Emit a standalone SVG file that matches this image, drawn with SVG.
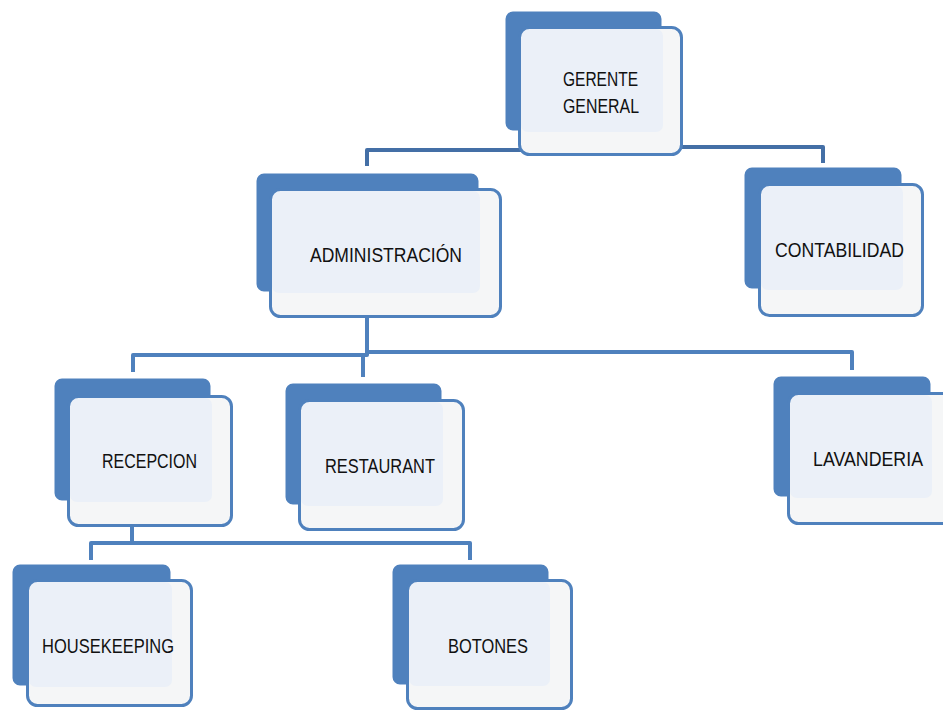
<svg xmlns="http://www.w3.org/2000/svg" width="943" height="711" viewBox="0 0 943 711">
<style>
.back{fill:#4f81bd;stroke:#ffffff;stroke-width:3}
.front{fill:#f5f6f7;stroke:none}
.ov{fill:#ebf0f8}
.edge{fill:none;stroke:#4f81bd;stroke-width:3}
.lbl{font-family:"Liberation Sans Narrow","Liberation Sans",sans-serif;font-size:21px;fill:#111111}
.conn{fill:none;stroke:#4f81bd;stroke-width:4;stroke-linejoin:round}
.conn.top{stroke:#446fa6}
</style>
<rect width="943" height="711" fill="#ffffff"/>
<g id="connectors">
<path class="conn top" d="M367,166 V150 H590"/>
<path class="conn top" d="M600,147 H823 V163"/>
<path class="conn" d="M367,318 V355 H133 V372"/>
<path class="conn" d="M367,355 V352 H852 V370"/>
<path class="conn" d="M363,355 V377"/>
<path class="conn" d="M132,527 V543 H91 V560"/>
<path class="conn" d="M132,543 H470 V560"/>
</g>
<g id="gerente">
<rect class="back" x="504" y="10" width="159" height="122" rx="9"/>
<rect class="front" x="519.5" y="27.5" width="162" height="127" rx="10"/>
<rect class="ov" x="521" y="29" width="142" height="103" rx="7"/>
<rect class="edge" x="519.5" y="27.5" width="162" height="127" rx="10"/>
<text class="lbl" x="563" y="86" textLength="75" lengthAdjust="spacingAndGlyphs">GERENTE</text>
<text class="lbl" x="563" y="113" textLength="76" lengthAdjust="spacingAndGlyphs">GENERAL</text>
</g>
<g id="administracion">
<rect class="back" x="255" y="172" width="225" height="121" rx="9"/>
<rect class="front" x="270.5" y="189.5" width="230" height="127" rx="10"/>
<rect class="ov" x="272" y="191" width="208" height="102" rx="7"/>
<rect class="edge" x="270.5" y="189.5" width="230" height="127" rx="10"/>
<text class="lbl" x="310" y="262" textLength="152" lengthAdjust="spacingAndGlyphs">ADMINISTRACIÓN</text>
</g>
<g id="contabilidad">
<rect class="back" x="743" y="166" width="160" height="124" rx="9"/>
<rect class="front" x="759.5" y="184.5" width="163" height="131" rx="10"/>
<rect class="ov" x="761" y="186" width="142" height="104" rx="7"/>
<rect class="edge" x="759.5" y="184.5" width="163" height="131" rx="10"/>
<text class="lbl" x="775" y="257" textLength="129" lengthAdjust="spacingAndGlyphs">CONTABILIDAD</text>
</g>
<g id="recepcion">
<rect class="back" x="53" y="377" width="159" height="125" rx="9"/>
<rect class="front" x="68.5" y="396.5" width="163" height="129" rx="10"/>
<rect class="ov" x="70" y="398" width="142" height="104" rx="7"/>
<rect class="edge" x="68.5" y="396.5" width="163" height="129" rx="10"/>
<text class="lbl" x="102" y="468" textLength="95" lengthAdjust="spacingAndGlyphs">RECEPCION</text>
</g>
<g id="restaurant">
<rect class="back" x="284" y="382" width="159" height="124" rx="9"/>
<rect class="front" x="299.5" y="400.5" width="164" height="129" rx="10"/>
<rect class="ov" x="301" y="402" width="142" height="104" rx="7"/>
<rect class="edge" x="299.5" y="400.5" width="164" height="129" rx="10"/>
<text class="lbl" x="325" y="473" textLength="110" lengthAdjust="spacingAndGlyphs">RESTAURANT</text>
</g>
<g id="lavanderia">
<rect class="back" x="772" y="375" width="160" height="123" rx="9"/>
<rect class="front" x="788.5" y="393.5" width="170" height="130" rx="10"/>
<rect class="ov" x="790" y="395" width="142" height="103" rx="7"/>
<rect class="edge" x="788.5" y="393.5" width="170" height="130" rx="10"/>
<text class="lbl" x="813" y="466" textLength="110" lengthAdjust="spacingAndGlyphs">LAVANDERIA</text>
</g>
<g id="housekeeping">
<rect class="back" x="11" y="563" width="161" height="124" rx="9"/>
<rect class="front" x="27.5" y="580.5" width="164" height="125" rx="10"/>
<rect class="ov" x="29" y="582" width="143" height="105" rx="7"/>
<rect class="edge" x="27.5" y="580.5" width="164" height="125" rx="10"/>
<text class="lbl" x="42" y="653" textLength="132" lengthAdjust="spacingAndGlyphs">HOUSEKEEPING</text>
</g>
<g id="botones">
<rect class="back" x="391" y="563" width="159" height="123" rx="9"/>
<rect class="front" x="407.5" y="580.5" width="164" height="128" rx="10"/>
<rect class="ov" x="409" y="582" width="141" height="104" rx="7"/>
<rect class="edge" x="407.5" y="580.5" width="164" height="128" rx="10"/>
<text class="lbl" x="448" y="653" textLength="80" lengthAdjust="spacingAndGlyphs">BOTONES</text>
</g>
</svg>
